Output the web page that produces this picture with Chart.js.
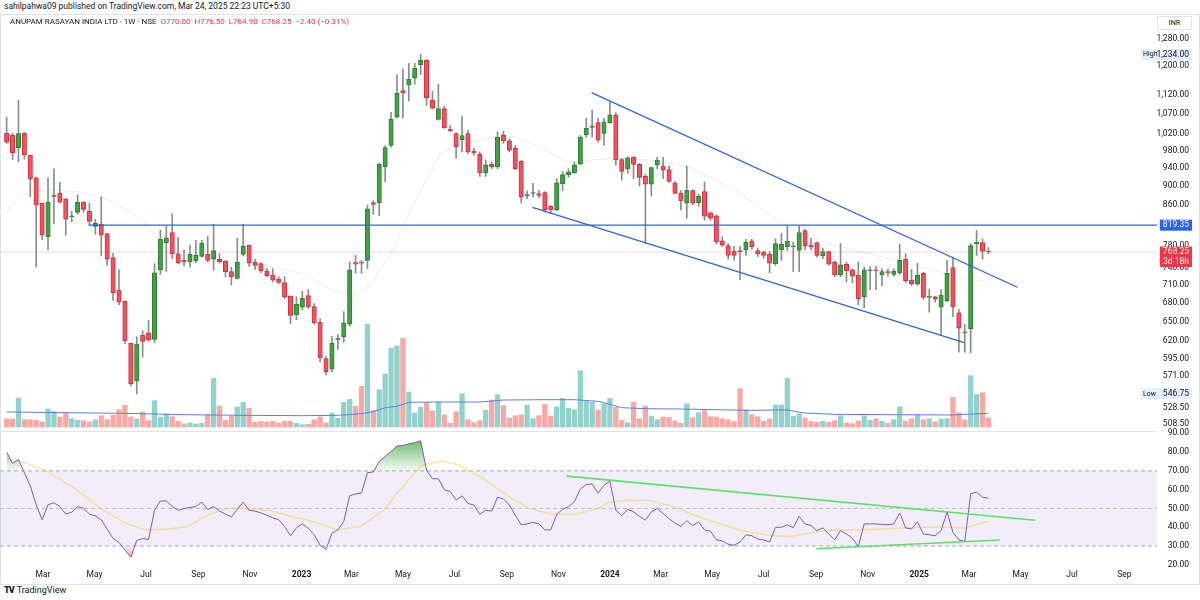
<!DOCTYPE html>
<html>
<head>
<meta charset="utf-8">
<script src="https://cdn.jsdelivr.net/npm/chart.js@4.4.1/dist/chart.umd.min.js"></script>
<style>
  body { margin: 0; width: 1200px; height: 600px; background: #fff; position: relative; overflow: hidden;
         font-family: Roboto, "Noto Sans", sans-serif; color: #131722; }
  .abs { position: absolute; }
  #hdr { left: 4px; top: 1px; font-size: 8.5px; white-space: nowrap; }
  #frame { left: 0; top: 14px; width: 1200px; height: 571px; border: 1px solid #e0e3eb; box-sizing: border-box; }
  #top { left: 0; top: 14px; }
  #bot { left: 0; top: 421px; }
  #sep { left: 0; top: 431px; width: 1157px; border-top: 1px solid #e0e3eb; }
  #legend { left: 10px; top: 17px; font-size: 8px; white-space: nowrap; }
  #legend .v { color: #f23645; }
  #inr { left: 1157px; top: 16px; width: 33px; height: 12px; border: 1px solid #e0e3eb; font-size: 7.5px;
         text-align: center; line-height: 12px; background: #fff; }
  #logo { left: 4px; top: 585px; font-size: 9px; white-space: nowrap; }
  #logo b { font-weight: 900; letter-spacing: -1px; margin-right: 3px; }
</style>
</head>
<body>
<div id="hdr" class="abs">sahilpahwa09 published on TradingView.com, Mar 24, 2025 22:23 UTC+5:30</div>
<div id="frame" class="abs"></div>
<div id="top" class="abs"><canvas id="priceChart" width="1200" height="417"></canvas></div>
<div id="sep" class="abs"></div>
<div id="bot" class="abs"><canvas id="rsiChart" width="1200" height="163"></canvas></div>
<div id="legend" class="abs">ANUPAM RASAYAN INDIA LTD · 1W · NSE&nbsp; <span class="v">O770.00&nbsp; H776.50&nbsp; L764.90&nbsp; C768.25&nbsp; −2.40 (−0.31%)</span></div>
<div id="inr" class="abs">INR</div>
<div id="logo" class="abs"><b>TV</b>TradingView</div>

<script>
// weekly candles, first bar = week of 17 Jan 2022
const START = Date.UTC(2022, 0, 17);
const WEEK = 7 * 864e5;
const XMIN = -1.12, XMAX = 194.5;

const opens = [
  1022,1017,987,1022,969,918,864,797,878,885, 873,836,845,866,847,817,821,803,758,701,
  683,617,564,629,633,623,736,785,805,765, 753,750,752,760,764,755,755,752,733,721,
  764,781,750,747,734,727,720,714,691,661, 673,692,674,649,595,580,622,627,646,749,
  750,753,865,865,942,992,1062,1132,1148,1166, 1204,1217,1106,1056,1084,1031,1021,1006,1021,978,
  971,929,948,942,1018,1003,985,955,879,884, 884,886,857,850,905,925,929,949,1018,1036,
  1048,1021,1048,1068,959,938,965,948,921,904, 946,944,936,907,885,864,890,865,888,844,
  838,789,780,770,771,772,789,771,768,764, 747,772,778,778,771,809,781,786,761,769,
  750,727,746,736,727,690,734,736,727,733, 728,731,755,718,711,730,689,690,673,683,
  740,664,634,639,784,786,770
];
const highs = [
  1062,1021,1106,1024,969,920,864,918,938,908, 873,847,881,867,864,831,877,803,766,736,
  683,617,627,636,652,747,810,818,842,796, 772,781,790,790,798,821,765,752,741,794,
  821,781,755,749,738,738,724,724,691,690, 699,702,679,655,598,627,630,666,750,762,
  753,860,869,951,992,1074,1176,1192,1208,1208, 1234,1220,1130,1149,1090,1041,1023,1064,1029,985,
  977,958,954,1025,1027,1008,992,957,889,906, 890,888,859,916,932,938,953,1016,1059,1080,
  1059,1059,1102,1073,962,966,966,950,925,942, 964,964,944,910,890,944,892,883,909,846,
  840,797,784,779,779,792,792,776,770,769, 793,803,818,787,818,811,794,787,775,770,
  752,784,750,738,750,741,742,742,738,737, 738,783,765,737,748,732,703,691,702,753,
  759,669,646,784,809,793,776.5
];
const lows = [
  997,959,954,960,877,741,792,772,822,864, 800,826,841,845,818,802,761,744,684,677,
  617,557,546.75,597,620,618,728,733,756,747, 743,741,749,759,750,735,748,724,710,720,
  761,742,737,731,724,715,712,687,647,653, 669,671,646,590,572,576,608,619,643,730,
  730,738,841,838,909,988,1059,1059,1104,1149, 1176,1092,1083,1054,1034,1025,962,977,973,969,
  921,921,938,938,997,977,936,864,873,877, 875,846,843,848,890,919,928,947,1012,1012,
  1000,993,1046,946,913,928,916,900,784,879, 938,916,908,883,850,833,860,857,829,829,
  783,778,755,753,719,762,773,760,757,731, 744,753,771,733,733,772,772,759,756,744,
  724,724,715,713,677,672,702,702,708,725, 725,728,714,709,709,686,665,681,630,682,
  658,604,604,603,762,755,764.9
];
const closes = [
  1000,975,1021,969,915,860,800,866,880,866, 831,838,866,851,827,823,800,755,697,681,
  621,560,616,620,622,731,792,795,765,749, 750,764,762,785,753,771,750,733,724,750,
  779,749,744,734,726,718,714,690,660,678, 688,674,648,596,576,617,624,648,736,746,
  748,852,861,948,987,1056,1124,1126,1163,1194, 1217,1112,1085,1084,1035,1028,989,1016,977,975,
  929,947,942,1012,1003,981,938,877,882,886, 880,850,850,907,925,931,947,1012,1034,1040,
  1005,1050,1068,958,932,963,948,919,904,941, 958,935,910,884,869,891,864,878,837,833,
  787,781,762,762,769,787,778,765,762,748, 784,783,788,779,805,780,778,762,769,746,
  727,745,734,725,687,736,736,734,733,731, 734,753,717,712,727,689,690,686,693,730,
  674,640,633,780,787,770,768.25
];
// thousand shares
const volumes = [
  240,240,870,220,220,200,150,540,460,300, 420,250,200,190,150,220,340,220,350,520,
  650,300,240,450,190,790,290,390,310,170, 90,120,90,110,380,1460,630,210,330,600,
  740,560,140,170,150,170,120,170,170,110, 70,80,220,300,120,420,260,740,830,620,
  1220,3090,500,1120,1590,2370,2440,2660,1050,420, 600,740,480,750,360,110,460,1000,220,130,
  190,500,810,970,640,270,340,370,660,250, 340,680,330,610,860,560,520,1690,770,750,
  510,690,860,590,200,130,750,250,630,320, 220,300,290,180,110,700,280,430,510,310,
  300,250,220,170,1150,510,370,310,170,240, 660,660,1460,320,400,270,170,140,170,140,
  190,340,120,100,180,340,200,250,170,120, 220,610,180,250,380,220,250,160,240,250,
  890,430,220,1540,980,1030,270
];
const rsi = [
  80,74,76,69,62,52,44,52,53,51, 47,48,51,50,47,46,44,39,34,32,
  28,24,33,34,33.5,49,54,54,51,49, 50,50.5,51,53.4,49.5,51,48.6,47,45.5,49.6,
  53.4,49,48.6,47.6,46.4,45,44,40.4,35.5,39.7, 41.8,39.5,36,30.4,28.3,36.8,38.6,43,56.7,57.8,
  58.2,69,69.4,75,77.7,80.3,83.2,83.5,84.4,85, 86,70.3,65.8,65.8,60,59,54.5,56.7,52.7,51.8,
  46.9,49,48.6,56,55,51.8,46.4,41.3,41.8,42.6, 41.8,38.6,38.6,46.9,49.5,50.9,53.6,60.3,62.7,63,
  58.2,62.3,64.5,49,46.2,49.5,48.2,45.8,43.7,48.2, 50,47.3,44.6,42.2,40.4,43.5,40.9,42.8,38.6,37.9,
  33.3,32.8,31,30.4,32.2,36,35.5,33.7,33.3,32.2, 40,40,41.3,39.7,45.8,41.8,40.9,38.2,39.7,36.4,
  33.3,38.2,36.4,34.2,29.7,41.8,41.8,41.8,41.5,41.3, 41.8,47.6,39.7,39.1,42.9,36.4,36,35.5,38.2,48.2,
  37.3,33.3,32.4,57.8,58.7,56,55.4
];
// [week, value]
const rsiMa = [
  [0,76.3],[2.1,75.4],[6.7,70],[11.8,60],[16.4,49],[20.3,41.8],[23.5,38.6],[27.4,39],[30.6,40.4],
  [33.9,46.4],[37.1,50],[40.4,50],[44.3,49],[48.2,45.8],[52.1,42.8],[56,38.6],[59.8,40.4],[63.7,49],
  [67,61.8],[70.2,73],[73.5,75.2],[76.7,73],[80.6,65.8],[84.5,57.2],[88.4,50],[92.3,46.9],[96.2,46.9],
  [100,50],[101.8,53],[105,54.5],[108.9,54.2],[112.8,50.9],[116.7,45.8],[120.6,41.8],[124.5,38.2],
  [128.4,35.9],[132.3,35],[136.2,37.3],[140,38.6],[143.9,38.6],[147.8,39],[151.7,39.7],[155.6,40],
  [159.5,40],[162.1,39.7],[164,41.5],[166,43.3]
];
const volMa = [
  [0,450],[10,430],[20,410],[30,370],[40,350],[50,340],[56,350],[60,400],[62,460],[64,580],[66,620],
  [68,740],[72,750],[80,750],[84,810],[90,820],[96,820],[100,770],[102,680],[104,580],[108,550],
  [114,540],[120,520],[126,500],[130,510],[132,510],[135,420],[140,380],[150,370],[160,360],[163,390],[166,410]
];
const priceMa = [
  [0,845],[2.3,880],[7.3,893],[12.4,887],[17.5,870],[22.6,833],[26,790],[31,762],[37.9,750],[44,744],
  [49.7,730],[55,702],[58.2,689],[61.6,710],[65,767],[68.9,864],[73.4,974],[78,999],[82.4,1011],
  [85.8,1014],[89.2,994],[95,953],[98.9,958],[102.3,962],[109,958],[115.3,942],[123.1,892],
  [129.9,833],[134.5,802],[139,784],[150.3,753],[161.6,722],[166,715]
];
// drawings
const channelTop = [[98.9,1126],[170.9,706]];
const channelBottom = [[88.9,855],[161.9,618]];
const levelLine = [[13.9,819.35],[XMAX,819.35]];
const rsiTop = [[94.7,67.2],[173.9,43.7]];
const rsiBottom = [[136.8,28.6],[167.9,33.2]];

const HIGH = 1234, LOW = 546.75, LEVEL = 819.35, LAST = 768.25;
const priceTicks = [1280,1200,1120,1070,1020,980,940,900,860,780,740,710,680,650,620,595,571,528.5,508.5];
const rsiTicks = [90,80,70,60,50,40,30,20];
const monthTicks = [
  ['2022-03-01','Mar'],['2022-05-01','May'],['2022-07-01','Jul'],['2022-09-01','Sep'],['2022-11-01','Nov'],
  ['2023-01-01','2023'],['2023-03-01','Mar'],['2023-05-01','May'],['2023-07-01','Jul'],['2023-09-01','Sep'],
  ['2023-11-01','Nov'],['2024-01-01','2024'],['2024-03-01','Mar'],['2024-05-01','May'],['2024-07-01','Jul'],
  ['2024-09-01','Sep'],['2024-11-01','Nov'],['2025-01-01','2025'],['2025-03-01','Mar'],['2025-05-01','May'],
  ['2025-07-01','Jul'],['2025-09-01','Sep']
];

const UP = '#43a047', UP_EDGE = '#2e7d32', DOWN = '#ef5361', DOWN_EDGE = '#d32f3f';
const isUp = i => closes[i] >= opens[i];
const pts = arr => arr.map(([x, y]) => ({ x, y }));
const fmt = v => v.toLocaleString('en-US', { minimumFractionDigits: 2, maximumFractionDigits: 2 });
const LABEL_RIGHT = 32;   // label right edge, px right of the axis line
const AXIS_FONT = '8.5px Roboto';

Chart.defaults.font.family = 'Roboto';
Chart.defaults.font.size = 9;
Chart.defaults.color = '#131722';

// right-aligned axis labels, taken from the y scale's own ticks
const axisLabels = {
  id: 'axisLabels',
  afterDraw(chart, args, opts) {
    const { ctx } = chart;
    const y = chart.scales.y;
    ctx.save();
    ctx.font = AXIS_FONT;
    ctx.fillStyle = '#131722';
    ctx.textAlign = 'right';
    ctx.textBaseline = 'middle';
    const right = y.left + LABEL_RIGHT;
    y.ticks.forEach(t => ctx.fillText(opts.format(t.value), right, y.getPixelForValue(t.value)));
    ctx.restore();
  }
};

// price-axis tags: high / low, drawn level and last price with bar countdown
const axisTags = {
  id: 'axisTags',
  afterDraw(chart) {
    const { ctx, scales: { y } } = chart;
    ctx.save();
    ctx.font = AXIS_FONT;
    const right = y.left + LABEL_RIGHT;
    ctx.textBaseline = 'middle';
    const tag = (v, lines, bg, fg, caption) => {
      const py = y.getPixelForValue(v);
      const w = Math.max(...lines.map(t => ctx.measureText(t).width));
      const left = caption ? y.left - 16 : right - w - 3;
      const h = 11 + (lines.length - 1) * 9.5;
      ctx.fillStyle = bg;
      ctx.fillRect(left, py - 5.5, right + 3 - left, h);
      ctx.fillStyle = fg;
      ctx.textAlign = 'right';
      lines.forEach((t, k) => ctx.fillText(t, right, py + k * 9.5));
      if (caption) {
        ctx.textAlign = 'left';
        ctx.font = '7px Roboto';
        ctx.fillStyle = '#131722';
        ctx.fillText(caption, y.left - 14, py);
        ctx.font = AXIS_FONT;
      }
    };
    tag(HIGH, [fmt(HIGH)], '#e3effd', '#131722', 'High');
    tag(LOW, [fmt(LOW)], '#e3effd', '#131722', 'Low');
    tag(LEVEL, [fmt(LEVEL)], '#2962ff', '#ffffff');
    tag(LAST, [fmt(LAST), '3d 18h'], '#f23645', '#ffffff');
    ctx.restore();
  }
};

const line = (data, color, width, axis, extra) => Object.assign({
  type: 'line', data, yAxisID: axis, borderColor: color, borderWidth: width,
  pointRadius: 0, fill: false, tension: 0
}, extra || {});

const sideAxis = (ticksList) => ({
  position: 'right',
  grid: { display: false, drawTicks: false }, border: { display: false },
  afterFit: s => { s.width = 43; },
  afterBuildTicks: s => { s.ticks = ticksList.map(v => ({ value: v })); },
  ticks: { display: false, autoSkip: false }
});

new Chart(document.getElementById('priceChart'), {
  type: 'bar',
  data: {
    datasets: [
      { type: 'bar', yAxisID: 'yVol', order: 10, grouped: false, barThickness: 4.6,
        data: volumes.map((v, i) => ({ x: i, y: v })),
        backgroundColor: volumes.map((v, i) => isUp(i) ? 'rgba(38,166,154,0.5)' : 'rgba(239,83,80,0.5)') },
      line(pts(volMa), '#5c7fe8', 1, 'yVol', { order: 9 }),
      line(pts(priceMa), 'rgba(150,150,150,0.18)', 1, 'y', { order: 8 }),
      line([{ x: XMIN, y: LAST }, { x: XMAX, y: LAST }], 'rgba(242,54,69,0.22)', 1, 'y', { order: 7 }),
      { type: 'bar', yAxisID: 'y', order: 4, grouped: false, barThickness: 1,
        data: lows.map((l, i) => ({ x: i, y: [l, highs[i]] })),
        backgroundColor: '#84918a' },
      { type: 'bar', yAxisID: 'y', order: 3, grouped: false, barThickness: 4.4, minBarLength: 1,
        borderWidth: 1, borderSkipped: false,
        data: opens.map((o, i) => ({ x: i, y: [o, closes[i]] })),
        backgroundColor: opens.map((o, i) => isUp(i) ? UP : DOWN),
        borderColor: opens.map((o, i) => isUp(i) ? UP_EDGE : DOWN_EDGE) },
      line(pts(levelLine), '#2f62ea', 1.3, 'y', { order: 1 }),
      line(pts(channelTop), '#2f62ea', 1.3, 'y', { order: 1 }),
      line(pts(channelBottom), '#2f62ea', 1.3, 'y', { order: 1 })
    ]
  },
  options: {
    responsive: false, animation: false,
    layout: { padding: 0 },
    plugins: { legend: { display: false }, tooltip: { enabled: false }, axisLabels: { format: fmt } },
    scales: {
      x: { type: 'linear', min: XMIN, max: XMAX, offset: false, display: false },
      y: Object.assign(sideAxis(priceTicks), { type: 'logarithmic', min: 500, max: 1360, bounds: 'data' }),
      yVol: { type: 'linear', display: false, min: -120, max: 12400 }
    }
  },
  plugins: [axisLabels, axisTags]
});

const overbought = c => {
  const ch = c.chart;
  if (!ch.chartArea) return 'rgba(0,0,0,0)';
  const y = ch.scales.y;
  const g = ch.ctx.createLinearGradient(0, y.getPixelForValue(87), 0, y.getPixelForValue(70));
  g.addColorStop(0, 'rgba(76,175,80,0.85)');
  g.addColorStop(1, 'rgba(76,175,80,0.05)');
  return g;
};
const oversold = c => {
  const ch = c.chart;
  if (!ch.chartArea) return 'rgba(0,0,0,0)';
  const y = ch.scales.y;
  const g = ch.ctx.createLinearGradient(0, y.getPixelForValue(30), 0, y.getPixelForValue(22));
  g.addColorStop(0, 'rgba(242,54,69,0.05)');
  g.addColorStop(1, 'rgba(242,54,69,0.6)');
  return g;
};
const rsiPts = rsi.map((v, i) => ({ x: i, y: v }));
const dash = [4, 3];

new Chart(document.getElementById('rsiChart'), {
  type: 'line',
  data: {
    datasets: [
      line([{ x: XMIN, y: 70 }, { x: XMAX, y: 70 }], '#a3a6af', 1, 'y',
        { order: 10, borderDash: dash, fill: '+1', backgroundColor: 'rgba(126,87,194,0.1)' }),
      line([{ x: XMIN, y: 30 }, { x: XMAX, y: 30 }], '#a3a6af', 1, 'y', { order: 10, borderDash: dash }),
      line([{ x: XMIN, y: 50 }, { x: XMAX, y: 50 }], 'rgba(163,166,175,0.6)', 1, 'y', { order: 10, borderDash: dash }),
      line(pts(rsiMa), 'rgba(250,200,60,0.45)', 1.6, 'y', { order: 5 }),
      line(rsiPts, 'rgba(0,0,0,0)', 0, 'y',
        { order: 4, fill: { target: { value: 30 }, above: 'rgba(0,0,0,0)' }, backgroundColor: oversold }),
      line(rsiPts, '#7e57c2', 1, 'y',
        { order: 3, fill: { target: { value: 70 }, below: 'rgba(0,0,0,0)' }, backgroundColor: overbought }),
      line(pts(rsiTop), '#5be06a', 1.6, 'y', { order: 1 }),
      line(pts(rsiBottom), '#5be06a', 1.6, 'y', { order: 1 })
    ]
  },
  options: {
    responsive: false, animation: false,
    layout: { padding: { top: 10 } },
    plugins: { legend: { display: false }, tooltip: { enabled: false }, axisLabels: { format: v => v.toFixed(2) } },
    scales: {
      x: {
        type: 'linear', min: XMIN, max: XMAX, offset: false,
        grid: { display: false, drawTicks: false }, border: { display: false },
        afterFit: s => { s.height = 18; },
        afterBuildTicks: s => { s.ticks = monthTicks.map(([d]) => ({ value: (Date.parse(d) - START) / WEEK })); },
        ticks: {
          autoSkip: false, maxRotation: 0, padding: 4,
          callback: (v, i) => monthTicks[i][1],
          font: c => ({ family: 'Roboto', size: 8.5, weight: c.tick && /^\d{4}$/.test(c.tick.label) ? 'bold' : 'normal' })
        }
      },
      y: Object.assign(sideAxis(rsiTicks), { type: 'linear', min: 19.4, max: 91.2 })
    }
  },
  plugins: [axisLabels]
});
</script>
</body>
</html>
